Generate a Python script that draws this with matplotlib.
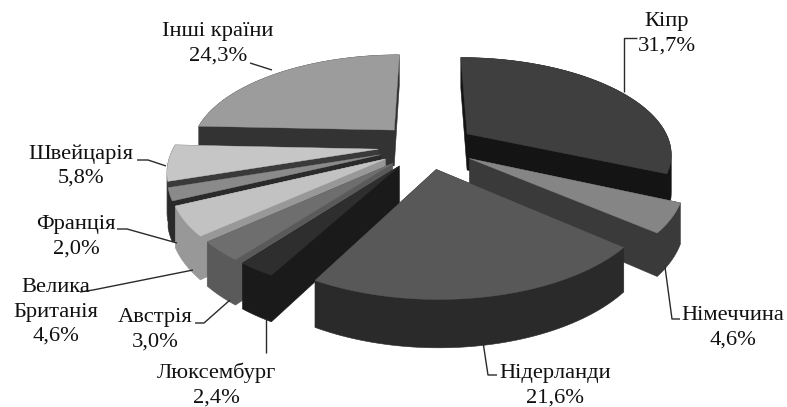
import numpy as np
import matplotlib
matplotlib.use("Agg")
import matplotlib.pyplot as plt
from matplotlib.patches import Polygon

names = ["Кіпр", "Німеччина", "Нідерланди", "Люксембург", "Австрія",
         "Велика\nБританія", "Франція", "Швейцарія", "Інші країни"]
values = [31.7, 4.6, 21.6, 2.4, 3.0, 4.6, 2.0, 5.8, 24.3]
value_labels = ["31,7%", "4,6%", "21,6%", "2,4%", "3,0%", "4,6%", "2,0%", "5,8%", "24,3%"]
top_colors = ["#3f3f3f", "#858585", "#585858", "#2e2e2e", "#6e6e6e", "#c2c2c2", "#8a8a8a", "#c6c6c6", "#9c9c9c"]
side_colors = ["#141414", "#3a3a3a", "#2a2a2a", "#1a1a1a", "#5a5a5a", "#989898", "#2a2a2a", "#3a3a3a", "#333333"]

CX, CY, A, B, K, H, E = 427, 146, 204, 95, 0.19, 37, 0.24

label_pos = [(667, 34), (733, 328), (555, 386), (216, 385), (155, 330), (56, 312), (76, 237), (81, 166), (218, 44)]
leaders = [
    [(637, 38), (624, 38), (624, 92)],
    [(680, 319), (672, 319), (665, 267)],
    [(497, 375), (488, 375), (483, 342)],
    [(266, 353), (266, 318)],
    [(195, 323), (204, 323), (230, 300)],
    [(80, 292), (93, 290), (193, 270)],
    [(117, 229), (127, 229), (177, 243)],
    [(137, 160), (148, 160), (166, 166)],
    [(250, 63), (272, 70)],
]


def project(x, y, z=0.0):
    s = 1.0 / (1.0 - K * y)
    return CX + A * x * s, CY + B * y * s + z * H * s


def hull(points):
    pts = sorted(map(tuple, points))
    def half(seq):
        out = []
        for p in seq:
            while len(out) > 1 and ((out[-1][0] - out[-2][0]) * (p[1] - out[-2][1])
                                    - (out[-1][1] - out[-2][1]) * (p[0] - out[-2][0])) <= 0:
                out.pop()
            out.append(p)
        return out[:-1]
    return half(pts) + half(pts[::-1])


fig = plt.figure(figsize=(7.87, 4.07), dpi=100)
ax = fig.add_axes([0, 0, 1, 1])
ax.set_xlim(0, 787)
ax.set_ylim(407, 0)
ax.axis("off")

fractions = np.array(values) / sum(values)
edges = np.concatenate([[0], np.cumsum(fractions)]) * 2 * np.pi
slices = []
for i in range(len(values)):
    mid = (edges[i] + edges[i + 1]) / 2
    ox, oy = E * np.sin(mid), -E * np.cos(mid)
    t = np.linspace(edges[i], edges[i + 1], 80)
    xs = np.concatenate([[ox], ox + np.sin(t)])
    ys = np.concatenate([[oy], oy - np.cos(t)])
    slices.append((oy, i, xs, ys))

z = 2.0
for oy, i, xs, ys in sorted(slices, key=lambda r: r[0]):
    top = np.array([project(x, y, 0) for x, y in zip(xs, ys)])
    bot = np.array([project(x, y, 1) for x, y in zip(xs, ys)])
    ax.add_patch(Polygon(hull(np.vstack([top, bot])), closed=True,
                         fc=side_colors[i], ec=side_colors[i], lw=0.4, zorder=z))
    ax.add_patch(Polygon(top, closed=True, fc=top_colors[i], ec=top_colors[i], lw=0.3, zorder=z + 0.01))
    z += 0.1

for pts in leaders:
    ax.plot(*zip(*pts), color="#2a2a2a", lw=1.0, zorder=5, solid_capstyle="butt")

for (x, y), name, val in zip(label_pos, names, value_labels):
    ax.text(x, y, f"{name}\n{val}", ha="center", va="center", fontsize=16.2,
            family="Liberation Serif", color="#111111", linespacing=1.38, zorder=6)

fig.savefig("out.png", dpi=100, facecolor="white")
